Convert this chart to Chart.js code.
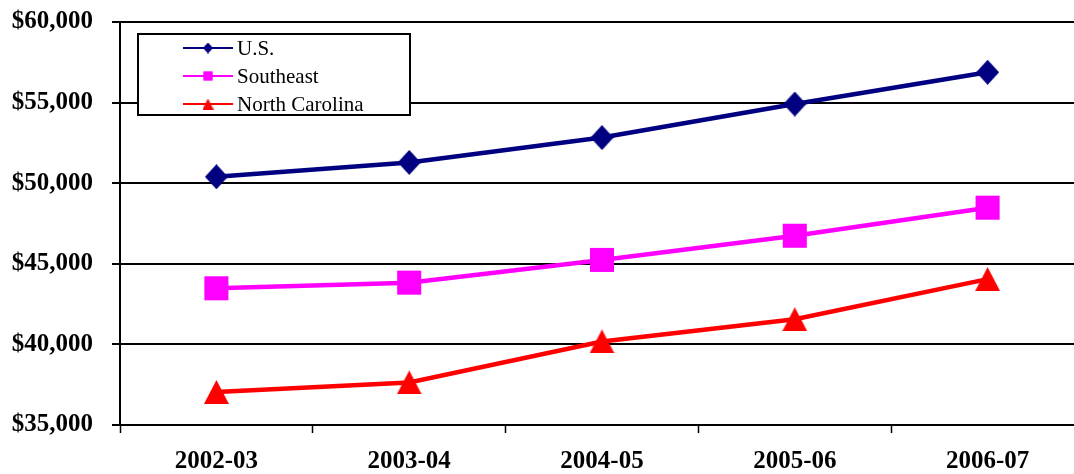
<!DOCTYPE html>
<html>
<head>
<meta charset="utf-8">
<script src="https://cdn.jsdelivr.net/npm/chart.js@4/dist/chart.umd.min.js"></script>
<style>
  html, body { margin: 0; padding: 0; background: #fff; overflow: hidden; }
  #wrap { width: 1101px; height: 474px; }
</style>
</head>
<body>
<div id="wrap"><canvas id="c" width="1101" height="474"></canvas></div>
<script>
// Average salary by school year
const years = ['2002-03', '2003-04', '2004-05', '2005-06', '2006-07'];
const usValues = [50400, 51290, 52830, 54910, 56880];
const southeastValues = [43480, 43830, 45240, 46740, 48480];
const northCarolinaValues = [37050, 37640, 40180, 41560, 44050];
const seriesNames = ['U.S.', 'Southeast', 'North Carolina'];
const yTicks = [35000, 40000, 45000, 50000, 55000, 60000];

const serif = '"Liberation Serif", "Times New Roman", serif';

// Marker sprites centred on their bounding box
function sprite(w, h, color, draw) {
  const c = document.createElement('canvas');
  c.width = Math.ceil(w); c.height = Math.ceil(h);
  const g = c.getContext('2d');
  g.fillStyle = color;
  g.beginPath();
  draw(g, c.width, c.height);
  g.closePath();
  g.fill();
  return c;
}
const diamond = (w, h, color) => sprite(w, h, color, (g, W, H) => {
  g.moveTo(W / 2, 0); g.lineTo(W, H / 2); g.lineTo(W / 2, H); g.lineTo(0, H / 2);
});
const triangle = (w, h, color) => sprite(w, h, color, (g, W, H) => {
  g.moveTo(W / 2, 0); g.lineTo(W, H); g.lineTo(0, H);
});

const colors = ['#000080', '#FF00FF', '#FF0000'];
const bigMarkers = [diamond(23, 25, colors[0]), 'rect', triangle(25, 24, colors[2])];
const smallMarkers = [diamond(10, 11, colors[0]), 'rect', triangle(11, 11, colors[2])];

// Boxed legend drawn inside the plot area: short line with marker, then label
const boxedLegend = {
  id: 'boxedLegend',
  afterDatasetsDraw(chart) {
    const ctx = chart.ctx;
    const area = chart.chartArea;
    const left = area.left + 18, top = area.top + 12, w = 272, h = 81;
    ctx.save();
    ctx.fillStyle = '#fff';
    ctx.fillRect(left, top, w, h);
    ctx.strokeStyle = '#000';
    ctx.lineWidth = 2;
    ctx.strokeRect(left, top, w, h);
    chart.data.datasets.forEach((ds, i) => {
      const y = top + 14 + i * 28;
      ctx.strokeStyle = ds.borderColor;
      ctx.lineWidth = 2;
      ctx.beginPath();
      ctx.moveTo(left + 45, y);
      ctx.lineTo(left + 95, y);
      ctx.stroke();
      ctx.fillStyle = ds.pointBackgroundColor;
      ctx.strokeStyle = ds.pointBorderColor;
      Chart.helpers.drawPoint(ctx, {
        pointStyle: smallMarkers[i], rotation: 0, radius: 6.6, borderWidth: 0
      }, left + 70, y);
      ctx.fillStyle = '#000';
      ctx.font = '21px ' + serif;
      ctx.textAlign = 'left';
      ctx.textBaseline = 'middle';
      ctx.fillText(ds.label, left + 99, y + 1);
    });
    ctx.restore();
  }
};

function series(label, values, color, style, radius) {
  return {
    label, data: values,
    borderColor: color, backgroundColor: color,
    pointBackgroundColor: color, pointBorderColor: color,
    borderWidth: 4.5, pointStyle: style, pointRadius: radius,
    pointBorderWidth: 0, pointHoverRadius: radius, tension: 0
  };
}

// Fixed axis sizes, without extra room for overhanging tick labels
function fixBox(size) {
  return s => {
    if (s.isHorizontal()) s.height = size; else s.width = size;
    s.paddingTop = 0; s.paddingBottom = 0; s.paddingLeft = 0; s.paddingRight = 0;
  };
}

new Chart(document.getElementById('c'), {
  type: 'line',
  data: {
    labels: years,
    datasets: [
      series(seriesNames[0], usValues, colors[0], bigMarkers[0], 12),
      series(seriesNames[1], southeastValues, colors[1], bigMarkers[1], 17),
      series(seriesNames[2], northCarolinaValues, colors[2], bigMarkers[2], 13)
    ]
  },
  options: {
    responsive: false,
    devicePixelRatio: 1,
    animation: false,
    layout: { padding: { top: 22, right: 0, bottom: 0, left: 0 } },
    plugins: { legend: { display: false }, tooltip: { enabled: false } },
    scales: {
      x: {
        offset: true,
        afterFit: fixBox(49),
        grid: {
          offset: true, drawOnChartArea: false, drawTicks: true,
          tickLength: 8, tickWidth: 1.5, tickColor: '#000'
        },
        border: { display: true, color: '#000', width: 2 },
        ticks: {
          color: '#000', padding: 14, maxRotation: 0,
          font: { family: serif, size: 25, weight: 'bold' }
        }
      },
      y: {
        min: 35000, max: 60000,
        afterFit: fixBox(120),
        afterBuildTicks(s) { s.ticks = yTicks.map(v => ({ value: v })); },
        grid: {
          color: '#000', lineWidth: 2, drawTicks: true,
          tickLength: 8, tickColor: '#000'
        },
        border: { display: true, color: '#000', width: 2 },
        ticks: {
          color: '#000', padding: 19,
          font: { family: serif, size: 25, weight: 'bold' },
          callback: v => '$' + v.toLocaleString('en-US')
        }
      }
    }
  },
  plugins: [boxedLegend]
});
</script>
</body>
</html>
